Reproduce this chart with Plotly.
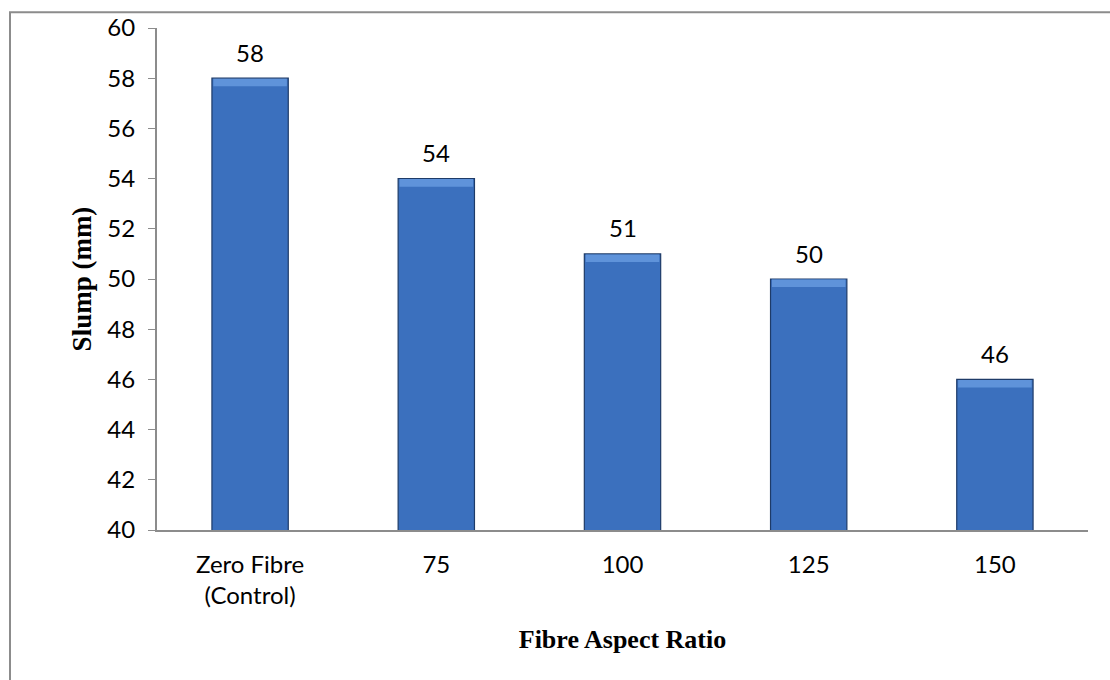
import plotly.graph_objects as go

categories = ["Zero Fibre<br>(Control)", "75", "100", "125", "150"]
slump_mm = [58, 54, 51, 50, 46]
y_ticks = [40, 42, 44, 46, 48, 50, 52, 54, 56, 58, 60]

W, H = 1110, 680
L, R, T, B = 157, 22, 24, 150
pw, ph = W - L - R, H - T - B

tick_font = dict(family="Lato, 'Open Sans', sans-serif", size=24, color="#000000")
serif = "'Liberation Serif', 'Times New Roman', serif"

fig = go.Figure()
fig.add_trace(go.Bar(
    x=categories,
    y=slump_mm,
    width=0.41,
    marker=dict(color="#3B70BE", line=dict(color="#1E3B68", width=1.2)),
    hoverinfo="skip",
))

# lighter bevel strip along the top of each bar
fig.add_trace(go.Bar(
    x=categories,
    y=[0.3] * len(slump_mm),
    base=[v - 0.32 for v in slump_mm],
    width=0.395,
    marker=dict(color="#5F93DA", line=dict(width=0)),
    hoverinfo="skip",
))

# value labels above the bars (category index as x position)
annotations = [
    dict(x=i, y=v, text=str(v), xref="x", yref="y", showarrow=False,
         yshift=26, yanchor="middle", font=tick_font)
    for i, v in enumerate(slump_mm)
]

fig.update_layout(
    width=W, height=H,
    margin=dict(l=L, r=R, t=T, b=B),
    paper_bgcolor="white",
    plot_bgcolor="white",
    showlegend=False,
    barmode="overlay",
    annotations=annotations,
    xaxis=dict(
        type="category",
        range=[-0.5, len(categories) - 0.5],
        showline=True, linecolor="#8C8C8C", linewidth=2,
        ticks="", tickfont=tick_font, showgrid=False,
        ticklabelstandoff=12,
        title=dict(text="<b>Fibre Aspect Ratio</b>",
                   font=dict(family=serif, size=26, color="#000000"), standoff=22),
    ),
    yaxis=dict(
        range=[40, 60], tickvals=y_ticks,
        showline=True, linecolor="#8C8C8C", linewidth=2,
        ticks="outside", ticklen=7, tickcolor="#8C8C8C", tickwidth=1,
        tickfont=tick_font, showgrid=False, zeroline=False,
        ticklabelstandoff=8,
        title=dict(text="<b>Slump (mm)</b>",
                   font=dict(family=serif, size=27, color="#000000"), standoff=8),
    ),
    shapes=[dict(
        type="rect", xref="paper", yref="paper",
        x0=(10 - L) / pw, x1=(W + 20 - L) / pw,
        y0=-(H + 20 - (T + ph)) / ph, y1=(T + ph - 8) / ph,
        line=dict(color="#8C8C8C", width=2), fillcolor="rgba(0,0,0,0)",
        layer="below",
    )],
)

fig.write_html("out.html")
